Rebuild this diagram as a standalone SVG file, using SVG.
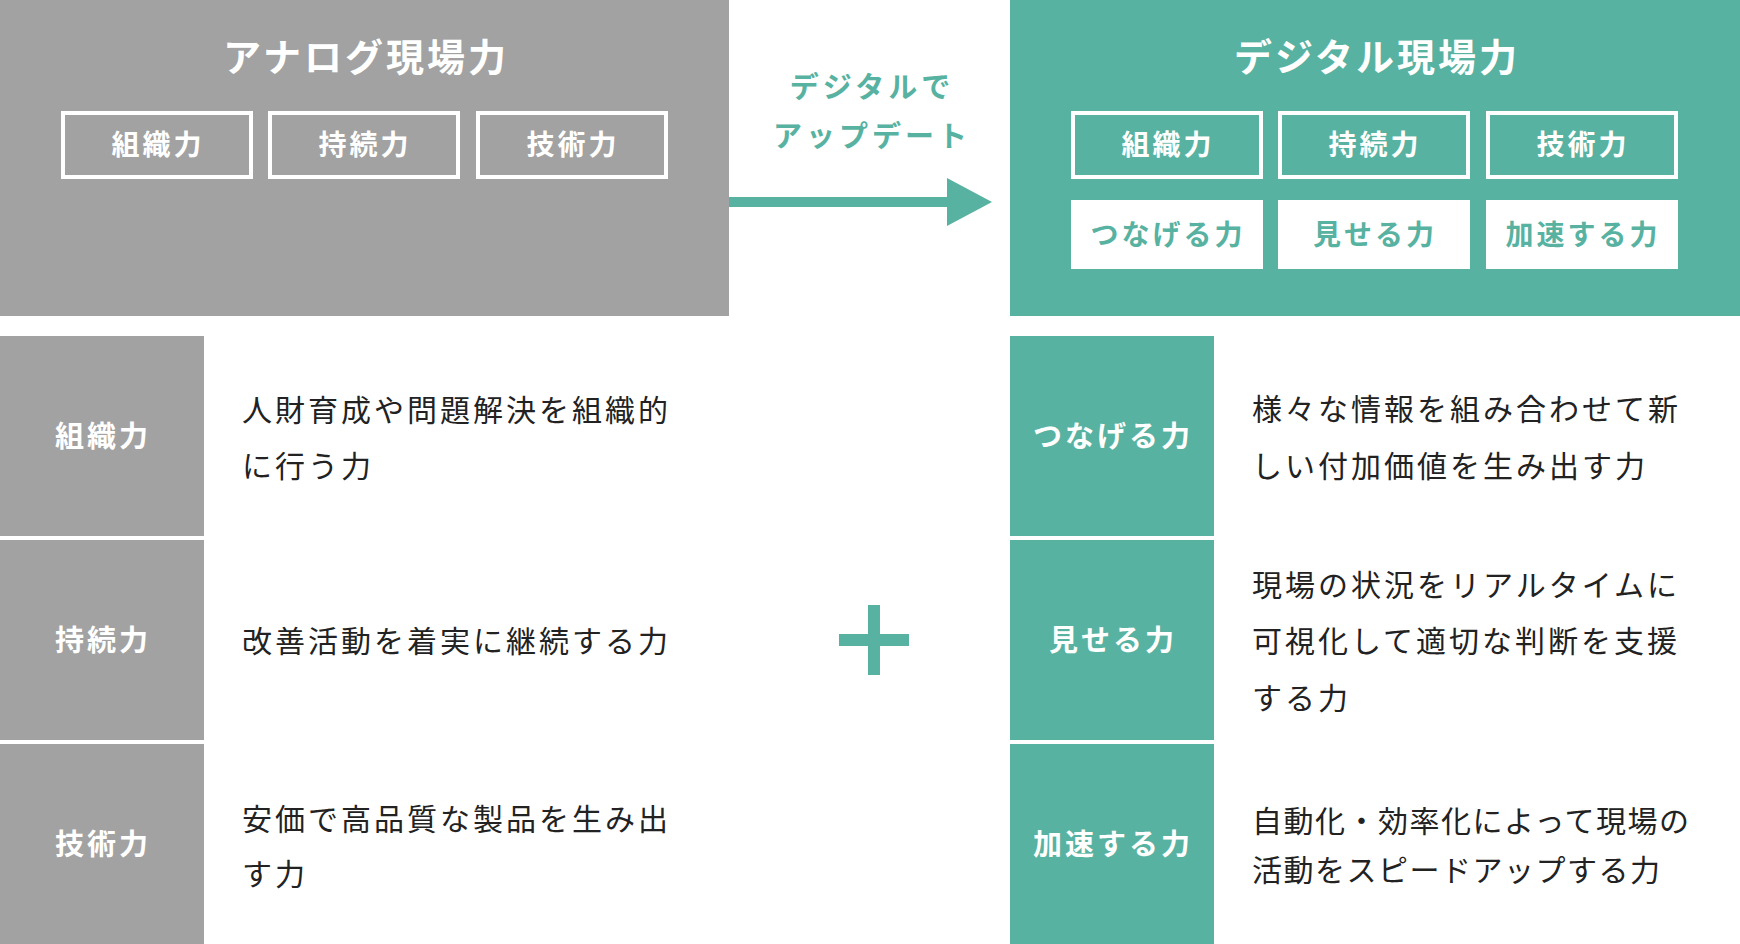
<svg xmlns="http://www.w3.org/2000/svg" width="1740" height="944" viewBox="0 0 1740 944">
<style>
.jp{font-family:"Noto Sans CJK JP","Noto Sans CJK SC",sans-serif}
.title{font-size:38px;font-weight:700;fill:#fff;letter-spacing:3px;text-anchor:middle}
.btxt{font-size:28px;font-weight:700;letter-spacing:3px;text-anchor:middle}
.lbl{font-size:29px;font-weight:700;fill:#fff;letter-spacing:3px;text-anchor:middle}
.desc{font-size:30px;font-weight:400;fill:#222;letter-spacing:3px}
.tight{letter-spacing:1.5px}
.upd{font-size:29px;font-weight:700;fill:#58b2a1;letter-spacing:4px;text-anchor:middle}
.gray{fill:#a2a2a2}
.green{fill:#58b2a1}
.obox{fill:none;stroke:#fff;stroke-width:4}
</style>
<rect width="1740" height="944" fill="#fff"/>
<g id="analog-panel">
<rect class="gray" x="0" y="0" width="729" height="316"/>
<text class="jp title" x="366" y="71">アナログ現場力</text>
<rect class="obox" x="63" y="113" width="188" height="64"/>
<text class="jp btxt" x="158" y="155" fill="#fff">組織力</text>
<rect class="obox" x="270" y="113" width="188" height="64"/>
<text class="jp btxt" x="365" y="155" fill="#fff">持続力</text>
<rect class="obox" x="478" y="113" width="188" height="64"/>
<text class="jp btxt" x="573" y="155" fill="#fff">技術力</text>
</g>
<g id="digital-panel">
<rect class="green" x="1010" y="0" width="730" height="316"/>
<text class="jp title" x="1377" y="71">デジタル現場力</text>
<rect class="obox" x="1073" y="113" width="188" height="64"/>
<text class="jp btxt" x="1168" y="155" fill="#fff">組織力</text>
<rect class="obox" x="1280" y="113" width="188" height="64"/>
<text class="jp btxt" x="1375" y="155" fill="#fff">持続力</text>
<rect class="obox" x="1488" y="113" width="188" height="64"/>
<text class="jp btxt" x="1583" y="155" fill="#fff">技術力</text>
<rect x="1071" y="200" width="192" height="69" fill="#fff"/>
<text class="jp btxt" x="1168" y="245" fill="#58b2a1">つなげる力</text>
<rect x="1278" y="200" width="192" height="69" fill="#fff"/>
<text class="jp btxt" x="1375" y="245" fill="#58b2a1">見せる力</text>
<rect x="1486" y="200" width="192" height="69" fill="#fff"/>
<text class="jp btxt" x="1583" y="245" fill="#58b2a1">加速する力</text>
</g>
<g id="connectors">
<rect class="green" x="729" y="197" width="222" height="10"/>
<polygon class="green" points="947,178 992,202 947,226"/>
<text class="jp upd" x="872" y="98">デジタルで</text>
<text class="jp upd" x="872" y="147">アップデート</text>
<rect class="green" x="839" y="634" width="70" height="12"/>
<rect class="green" x="868" y="605" width="12" height="70"/>
</g>
<g id="row-soshiki">
<rect class="gray" x="0" y="336" width="204" height="200"/>
<text class="jp lbl" x="103" y="447">組織力</text>
<text class="jp desc" x="242" y="421">人財育成や問題解決を組織的</text>
<text class="jp desc" x="242" y="477">に行う力</text>
</g>
<g id="row-jizoku">
<rect class="gray" x="0" y="540" width="204" height="200"/>
<text class="jp lbl" x="103" y="651">持続力</text>
<text class="jp desc" x="242" y="652">改善活動を着実に継続する力</text>
</g>
<g id="row-gijutsu">
<rect class="gray" x="0" y="744" width="204" height="200"/>
<text class="jp lbl" x="103" y="855">技術力</text>
<text class="jp desc" x="242" y="830">安価で高品質な製品を生み出</text>
<text class="jp desc" x="242" y="885">す力</text>
</g>
<g id="row-tsunageru">
<rect class="green" x="1010" y="336" width="204" height="200"/>
<text class="jp lbl" x="1113" y="447">つなげる力</text>
<text class="jp desc" x="1252" y="420">様々な情報を組み合わせて新</text>
<text class="jp desc" x="1252" y="477">しい付加価値を生み出す力</text>
</g>
<g id="row-miseru">
<rect class="green" x="1010" y="540" width="204" height="200"/>
<text class="jp lbl" x="1113" y="651">見せる力</text>
<text class="jp desc" x="1252" y="596">現場の状況をリアルタイムに</text>
<text class="jp desc" x="1252" y="652">可視化して適切な判断を支援</text>
<text class="jp desc" x="1252" y="709">する力</text>
</g>
<g id="row-kasoku">
<rect class="green" x="1010" y="744" width="204" height="200"/>
<text class="jp lbl" x="1113" y="855">加速する力</text>
<text class="jp desc tight" x="1252" y="832">自動化・効率化によって現場の</text>
<text class="jp desc tight" x="1252" y="881">活動をスピードアップする力</text>
</g>
</svg>
